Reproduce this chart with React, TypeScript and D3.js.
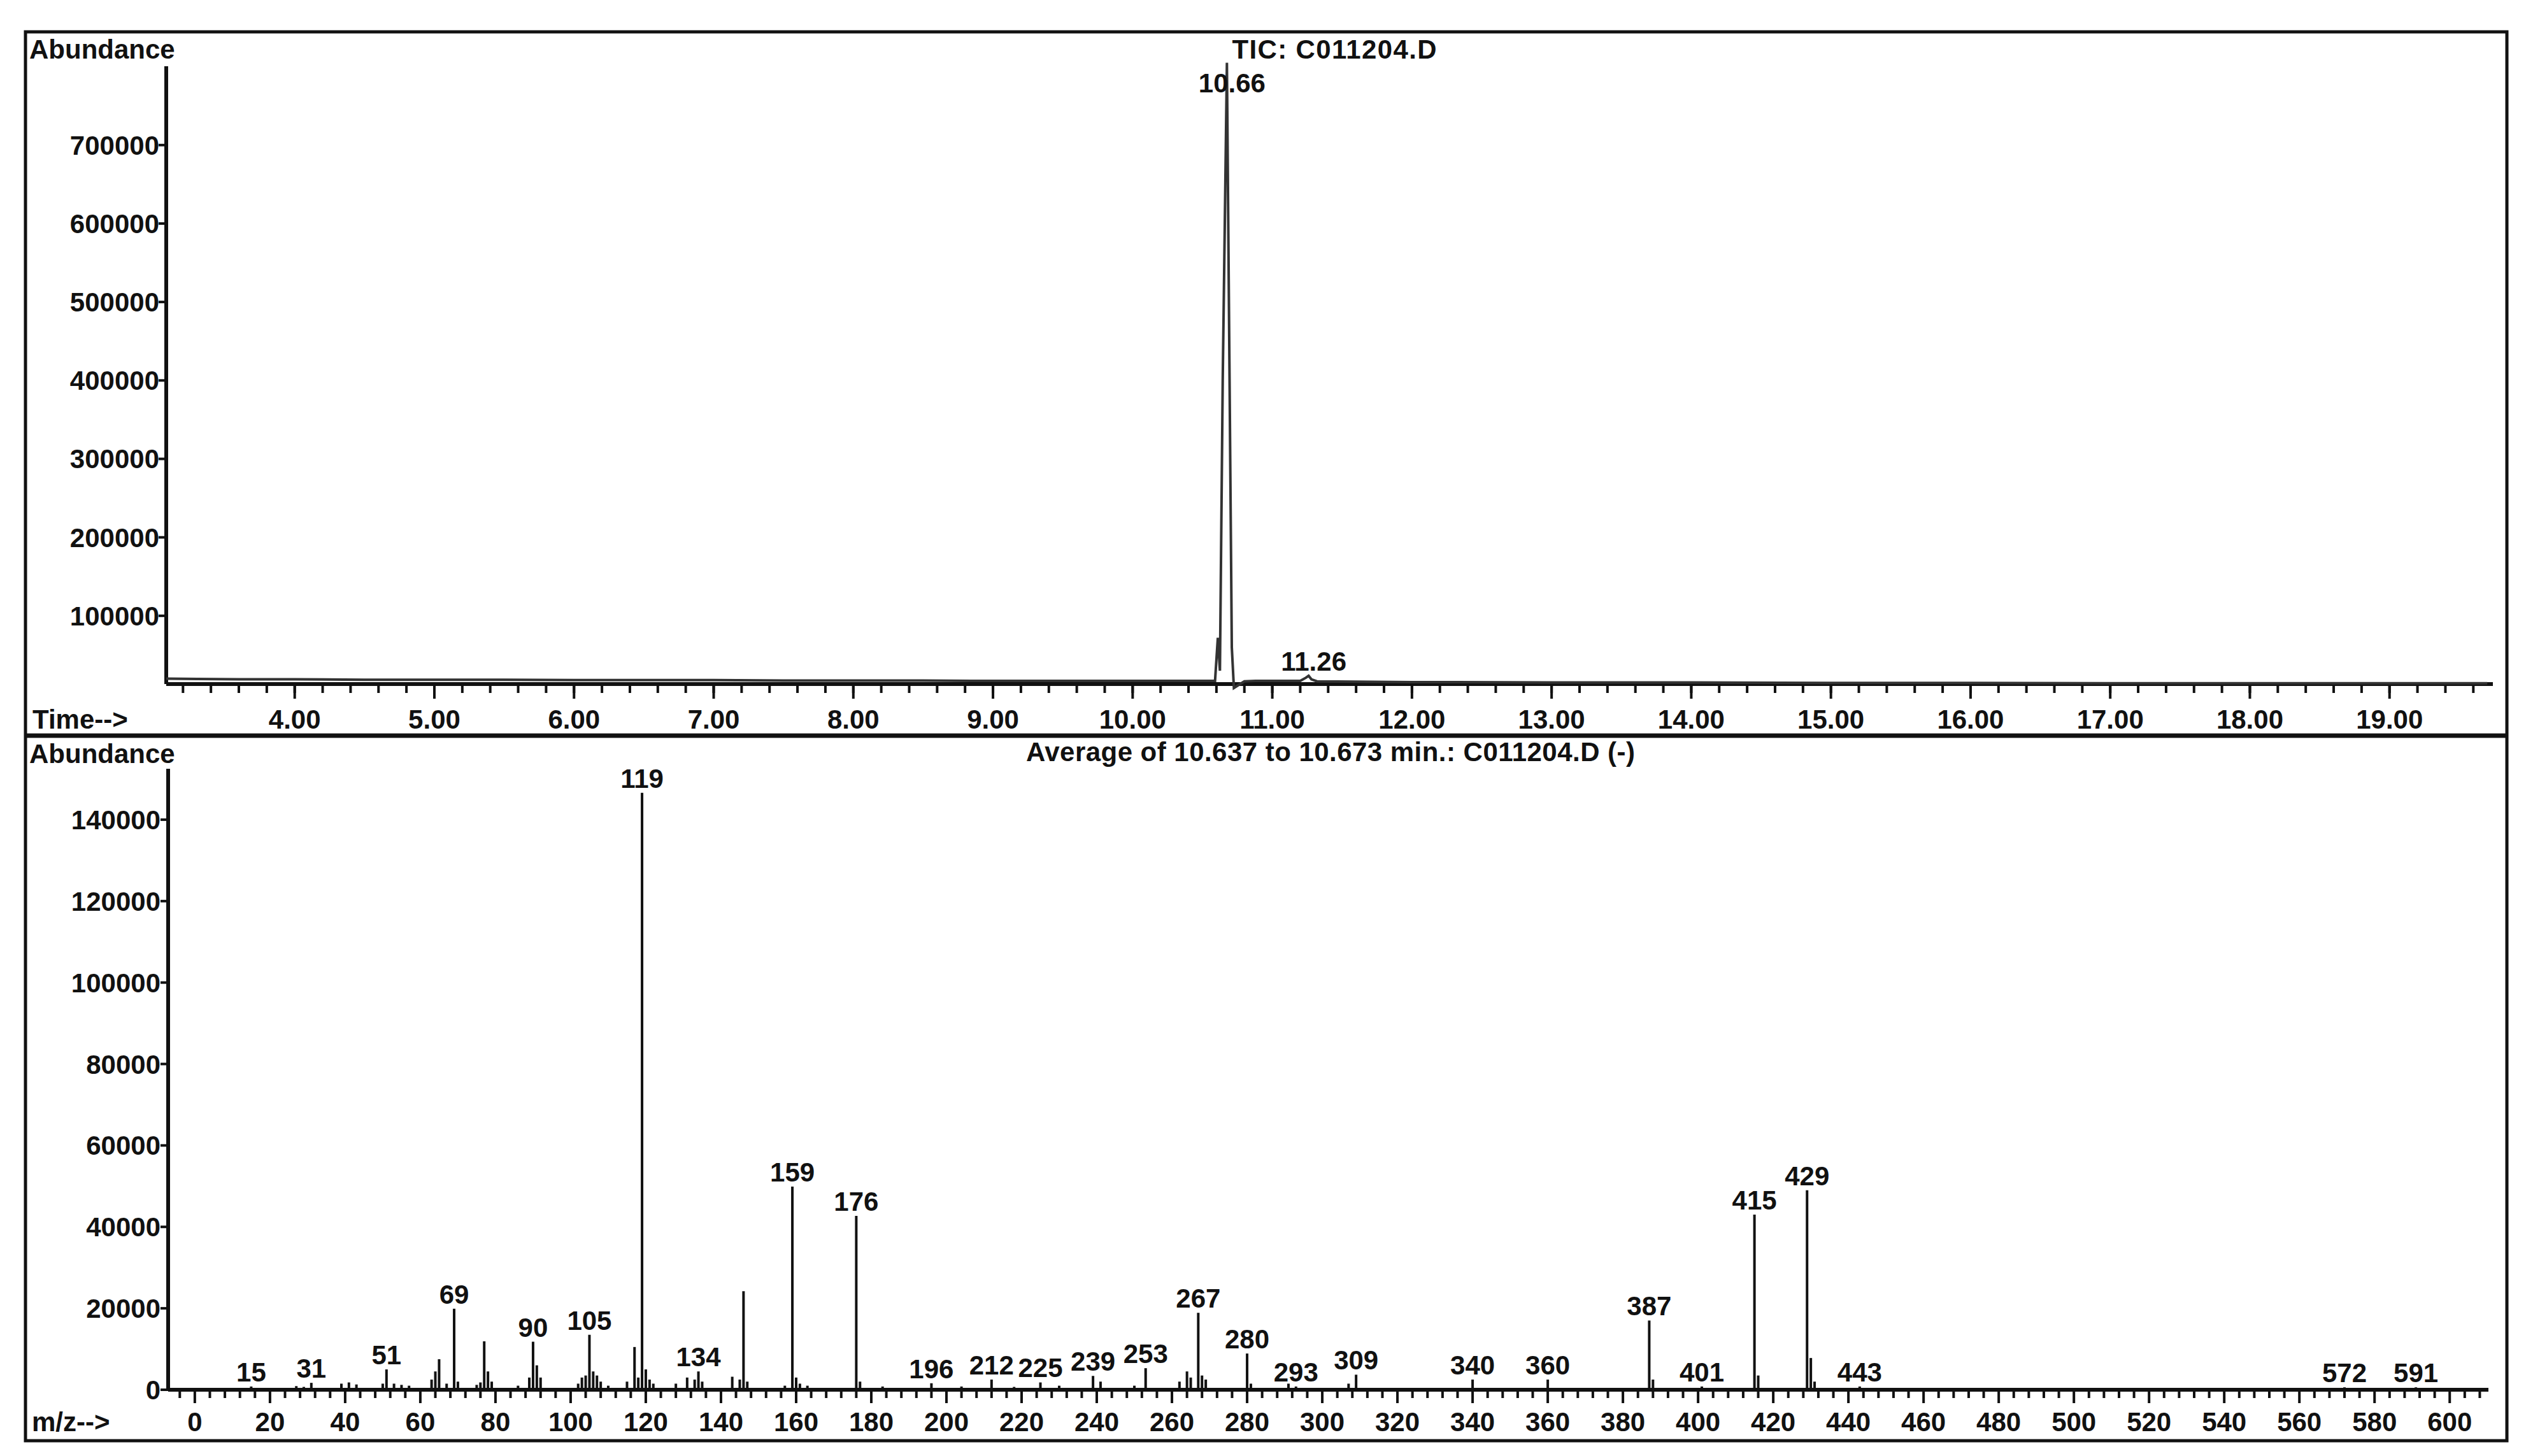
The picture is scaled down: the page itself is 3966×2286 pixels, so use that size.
import * as d3 from "d3";

// ---- TIC chromatogram (top panel) ----
const ticTime = [
  3.08, 3.3, 3.6, 4.0, 4.5, 5.0, 5.5, 6.0, 6.5, 7.0, 7.5, 8.0, 8.5, 9.0, 9.5,
  10.0, 10.3, 10.55, 10.59, 10.61, 10.625, 10.645, 10.675, 10.71, 10.725,
  10.76, 10.8, 10.88, 11.0, 11.2, 11.24, 11.26, 11.28, 11.32, 11.6, 12, 13,
  14, 15, 16, 17, 18, 19, 19.7,
];
const ticAbund = [
  20000, 19500, 19000, 19000, 18500, 18500, 18500, 18000, 18000, 18000, 17500,
  17500, 17500, 17000, 17000, 17000, 17000, 17000, 17000, 72000, 30000,
  400000, 805000, 60000, 8000, 12000, 16500, 17000, 17000, 17000, 21000,
  23500, 19000, 16500, 16000, 15500, 15000, 15000, 14500, 14500, 14000,
  14000, 14000, 14000,
];
const ticLabelTimes = [10.675, 11.26];
const ticLabelText = ["10.66", "11.26"];
const ticYTicks = [100000, 200000, 300000, 400000, 500000, 600000, 700000];
const ticXTicks = [4, 5, 6, 7, 8, 9, 10, 11, 12, 13, 14, 15, 16, 17, 18, 19];

// ---- mass spectrum (bottom panel) ----
const msMz = [
  15, 27, 29, 31, 39, 41, 43, 50, 51, 53, 55, 57, 63, 64, 65, 67, 69, 70, 75,
  76, 77, 78, 79, 86, 89, 90, 91, 92, 102, 103, 104, 105, 106, 107, 108, 110,
  115, 117, 118, 119, 120, 121, 122, 128, 131, 133, 134, 135, 143, 145, 146,
  147, 157, 159, 160, 161, 163, 176, 177, 183, 196, 204, 212, 218, 225, 230,
  239, 241, 250, 253, 262, 264, 265, 267, 268, 269, 280, 281, 291, 293, 307,
  309, 340, 360, 387, 388, 401, 415, 416, 429, 430, 431, 443, 572, 591,
];
const msAbund = [
  800, 900, 700, 1700, 1500, 1800, 1300, 1500, 5000, 1500, 1200, 1000, 2500,
  4500, 7500, 1500, 19900, 2000, 1200, 1800, 11900, 4500, 2000, 1000, 3000,
  11800, 6000, 3000, 1500, 3000, 3500, 13500, 4500, 3500, 2000, 1000, 2000,
  10500, 3000, 146600, 5000, 2500, 1500, 1500, 3000, 2500, 4500, 2000, 3200,
  2500, 24200, 2000, 1000, 49900, 3000, 1500, 1000, 42700, 2000, 800, 1600,
  800, 2500, 700, 1800, 1000, 3400, 2000, 1000, 5300, 2000, 4500, 3000, 18900,
  3500, 2500, 8900, 1500, 1500, 800, 1500, 3700, 2500, 2500, 17000, 2500, 800,
  43000, 3500, 49000, 7800, 2000, 800, 600, 600,
];
const msLabels = [
  15, 31, 51, 69, 90, 105, 119, 134, 159, 176, 196, 212, 225, 239, 253, 267,
  280, 293, 309, 340, 360, 387, 401, 415, 429, 443, 572, 591,
];
const msYTicks = [0, 20000, 40000, 60000, 80000, 100000, 120000, 140000];

const FONT = "'Liberation Sans', Arial, sans-serif";
const INK = "#111";

export default function App() {
  const W = 3966,
    H = 2286;

  // top panel scales
  const xTop = d3.scaleLinear().domain([3.08, 19.74]).range([261, 3914]);
  const yTop = d3.scaleLinear().domain([13000, 800000]).range([1074, 104.6]);
  // bottom panel scales
  const xBot = d3.scaleLinear().domain([-7.1, 610.3]).range([264, 3907]);
  const yBot = d3.scaleLinear().domain([0, 152500]).range([2182, 1207]);

  const ticLine = d3
    .line<number>()
    .x((_, i) => xTop(ticTime[i]))
    .y((v) => yTop(v));

  const topMinor = d3.range(16, 99).map((i) => i / 5);
  const botMinor = d3.range(-1, 153).map((i) => i * 4);
  const fmt2 = d3.format(".2f");

  const txt = {
    fontFamily: FONT,
    fontWeight: 700,
    fontSize: 42,
    fill: INK,
  } as const;

  return (
    <svg
      width={W}
      height={H}
      style={{ position: "absolute", left: 0, top: 0, background: "#fff" }}
    >
      {/* frame */}
      <rect x={40} y={50} width={3896} height={2212} fill="none" stroke={INK} strokeWidth={5} />
      <line x1={40} x2={3936} y1={1155} y2={1155} stroke={INK} strokeWidth={7} />

      {/* ===== top panel ===== */}
      <text {...txt} x={46} y={92}>Abundance</text>
      <text {...txt} x={2095} y={92} textAnchor="middle" textLength={321}>
        TIC: C011204.D
      </text>
      <line x1={261} x2={261} y1={104} y2={1074} stroke={INK} strokeWidth={6} />
      <line x1={261} x2={xTop.range()[1]} y1={1074} y2={1074} stroke={INK} strokeWidth={6} />
      {ticYTicks.map((v) => (
        <g key={v}>
          <line x1={249} x2={261} y1={yTop(v)} y2={yTop(v)} stroke={INK} strokeWidth={4} />
          <text {...txt} x={250} y={yTop(v) + 15} textAnchor="end">{v}</text>
        </g>
      ))}
      {topMinor
        .filter((t) => xTop(t) > 262 && xTop(t) < 3914)
        .map((t) => (
          <line key={t} x1={xTop(t)} x2={xTop(t)} y1={1074} y2={1088} stroke={INK} strokeWidth={4} />
        ))}
      {ticXTicks.map((t) => (
        <g key={t}>
          <line x1={xTop(t)} x2={xTop(t)} y1={1074} y2={1097} stroke={INK} strokeWidth={4} />
          <text {...txt} x={xTop(t)} y={1144} textAnchor="middle">{fmt2(t)}</text>
        </g>
      ))}
      <text {...txt} x={51} y={1144}>Time--&gt;</text>
      <path d={ticLine(ticAbund) ?? ""} fill="none" stroke="#333" strokeWidth={4} />
      {ticLabelTimes.map((t, i) => {
        const v = ticAbund[ticTime.indexOf(t)];
        return (
          <text
            key={t}
            {...txt}
            x={xTop(t) + 8}
            y={Math.max(yTop(v) - 8, 145)}
            textAnchor="middle"
          >
            {ticLabelText[i]}
          </text>
        );
      })}

      {/* ===== bottom panel ===== */}
      <text {...txt} x={46} y={1198}>Abundance</text>
      <text {...txt} x={2089} y={1195} textAnchor="middle" textLength={956}>
        Average of 10.637 to 10.673 min.: C011204.D (-)
      </text>
      <line x1={264} x2={264} y1={1207} y2={2182} stroke={INK} strokeWidth={6} />
      <line x1={264} x2={xBot.range()[1]} y1={2182} y2={2182} stroke={INK} strokeWidth={6} />
      {msYTicks.map((v) => (
        <g key={v}>
          <line x1={252} x2={264} y1={yBot(v)} y2={yBot(v)} stroke={INK} strokeWidth={4} />
          <text {...txt} x={252} y={yBot(v) + 15} textAnchor="end">{v}</text>
        </g>
      ))}
      {botMinor
        .filter((m) => xBot(m) > 265 && xBot(m) < 3907)
        .map((m) => (
          <line key={m} x1={xBot(m)} x2={xBot(m)} y1={2182} y2={m % 20 === 0 ? 2203 : 2195} stroke={INK} strokeWidth={4} />
        ))}
      {xBot.ticks(30).filter((m) => m >= 0 && m <= 600).map((m) => (
        <text key={m} {...txt} x={xBot(m)} y={2247} textAnchor="middle">{m}</text>
      ))}
      <text {...txt} x={50} y={2247}>m/z--&gt;</text>
      {msMz.map((m, i) => (
        <line key={m} x1={xBot(m)} x2={xBot(m)} y1={yBot(0)} y2={yBot(msAbund[i])} stroke={INK} strokeWidth={4} />
      ))}
      {msLabels.map((m) => {
        const v = msAbund[msMz.indexOf(m)];
        return (
          <text key={m} {...txt} x={xBot(m)} y={yBot(v) - 8} textAnchor="middle">
            {m}
          </text>
        );
      })}
    </svg>
  );
}
